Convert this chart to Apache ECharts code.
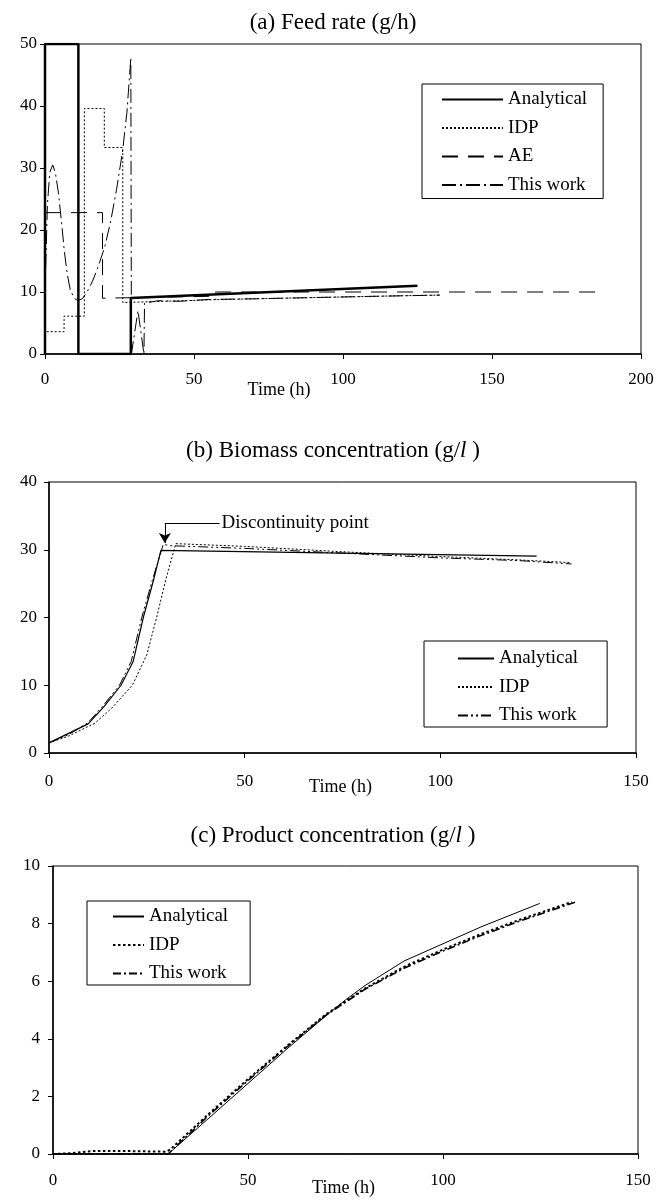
<!DOCTYPE html>
<html>
<head>
<meta charset="utf-8">
<script src="https://cdn.jsdelivr.net/npm/echarts@6/dist/echarts.min.js"></script>
<style>
html, body { margin: 0; padding: 0; background: #fff; }
#main { width: 666px; height: 1200px; }
</style>
</head>
<body>
<div id="main"></div>
<script>
// (a) feed rate (g/h) -- [time, value]
var feedAnalytical = [[0, 0], [0, 50], [11.2, 50], [11.2, 0], [28.8, 0], [28.8, 9.05], [125, 11.0]];
var feedIDP = [[0, 0], [0, 3.6], [6.4, 3.6], [6.4, 6.1], [13.2, 6.1], [13.2, 39.6], [19.9, 39.6], [19.9, 33.3],
    [26.1, 33.3], [26.1, 8.3], [40, 8.5], [60, 8.8], [80, 9.0], [100, 9.2], [120, 9.4], [132.6, 9.5]];
var feedAE = [[0, 22.8], [19.3, 22.8], [19.3, 9.0], [55, 9.3], [55, 10], [187, 10]];
var feedThisWork = [[0, 10], [0.8, 24], [1.6, 29.3], [2.6, 30.5], [3.5, 29.2], [4.5, 26], [5.5, 21.5], [6.5, 16.5],
    [7.5, 12.8], [8.5, 10.3], [9.8, 9.0], [11, 8.6], [12.5, 8.9], [14, 9.9], [16, 11.8], [18, 14.3], [20, 17.2],
    [22, 21.3], [24, 26.5], [26, 32.6], [27.5, 39], [28.8, 47.8], [29, 0], [31.2, 7], [33.2, 0], [33.4, 8.2],
    [38, 8.6], [45, 8.5], [55, 8.8], [70, 8.9], [90, 9.1], [110, 9.3], [132.5, 9.5]];

// (b) biomass concentration (g/l)
var bioAnalytical = [[0, 1.5], [10, 4.3], [14, 6.8], [18.4, 10], [21.5, 13.5], [24.1, 20], [26.7, 25.5],
    [28.6, 29.9], [124.6, 29.05]];
var bioIDP = [[0, 1.5], [5, 2.5], [11.7, 4.4], [16, 6.6], [21.3, 10], [25, 14.5], [27.5, 20], [29.8, 25.5],
    [32.4, 30.9], [50, 30.5], [75, 29.7], [100, 29.0], [120, 28.5], [133.5, 28.1]];
var bioThisWork = [[0, 1.5], [5, 2.7], [10, 4.5], [14, 7.1], [18, 10], [21, 13.5], [23.7, 20], [26.4, 25.5],
    [29.2, 30.8], [31, 30.6], [50, 30.2], [75, 29.5], [100, 28.8], [120, 28.4], [133.5, 27.9]];

// (c) product concentration (g/l)
var prodAnalytical = [[0, 0], [29.5, 0], [40, 1.25], [50, 2.45], [60, 3.65], [70, 4.8], [75, 5.35], [80, 5.85],
    [90, 6.7], [100, 7.3], [110, 7.9], [124.8, 8.7]];
var prodIDP = [[0, 0], [5, 0.03], [10, 0.1], [20, 0.1], [29, 0.08], [30, 0.15], [40, 1.4], [50, 2.6], [60, 3.75],
    [70, 4.85], [80, 5.75], [90, 6.5], [100, 7.1], [110, 7.65], [120, 8.15], [133, 8.75]];
var prodThisWork = [[0, 0], [29.5, 0], [30, 0.05], [40, 1.35], [50, 2.55], [60, 3.72], [70, 4.82], [80, 5.72],
    [90, 6.45], [100, 7.05], [110, 7.6], [120, 8.1], [134, 8.75]];

var legendA = ['Analytical|a', 'IDP|a', 'AE|a', 'This work|a'];
var legendB = ['Analytical|b', 'IDP|b', 'This work|b'];
var legendC = ['Analytical|c', 'IDP|c', 'This work|c'];

var FONT = 'Liberation Serif';
var chart = echarts.init(document.getElementById('main'));

function xAxisOf(grid, max, gap, margin, namePad) {
    return {
        type: 'value', gridIndex: grid, min: 0, max: max, interval: 50,
        name: 'Time (h)', nameLocation: 'middle', nameGap: gap, nameMoveOverlap: false,
        nameTextStyle: { fontFamily: FONT, fontSize: 18, color: '#000', padding: namePad },
        axisLine: { lineStyle: { color: '#000', width: 1.5 } },
        axisTick: { show: true, length: 5, lineStyle: { color: '#000' } },
        axisLabel: { fontFamily: FONT, fontSize: 17, color: '#000', margin: margin },
        splitLine: { show: false }
    };
}
function yAxisOf(grid, max, interval, margin) {
    return {
        type: 'value', gridIndex: grid, min: 0, max: max, interval: interval,
        axisLine: { show: true, lineStyle: { color: '#000', width: 1.5 } },
        axisTick: { show: true, length: 5, lineStyle: { color: '#000' } },
        axisLabel: { fontFamily: FONT, fontSize: 17, color: '#000', margin: margin },
        splitLine: { show: false }
    };
}
function line(name, data, idx, width, type) {
    return {
        name: name, type: 'line', data: data, xAxisIndex: idx, yAxisIndex: idx,
        symbol: 'none', silent: true, animation: false,
        lineStyle: { color: '#000', width: width, type: type }
    };
}
function legendOf(names, left, top, pad, gap, itemWidth) {
    return {
        data: names, orient: 'vertical', left: left, top: top, padding: pad, itemGap: gap,
        itemWidth: itemWidth, itemHeight: 14, selectedMode: false,
        borderColor: '#000', borderWidth: 1, backgroundColor: '#fff',
        itemStyle: { color: 'rgba(0,0,0,0)', borderWidth: 0, opacity: 0 },
        textStyle: { fontFamily: FONT, fontSize: 19, color: '#000' },
        formatter: function (n) { return n.split('|')[0]; }
    };
}

var bioArrowSeries = line('Analytical|b', bioAnalytical, 1, 1.2, 'solid');
bioArrowSeries.markLine = {
    silent: true, animation: false,
    lineStyle: { color: '#000', width: 1, type: 'solid' },
    data: [
        [{ coord: [29.6, 33.9], symbol: 'none' }, { coord: [29.6, 31.0], symbol: 'arrow', symbolSize: [9, 10] }],
        [{ coord: [29.6, 33.9], symbol: 'none' },
         { coord: [43.6, 33.9], symbol: 'none',
           label: { show: true, position: 'end', distance: 2, formatter: 'Discontinuity point',
                    fontFamily: FONT, fontSize: 19, color: '#000' } }]
    ],
    label: { show: false }
};

var titleStyle = {
    fontFamily: FONT, fontSize: 23, fontWeight: 'normal', color: '#000',
    rich: { i: { fontFamily: FONT, fontSize: 23, fontStyle: 'italic', color: '#000' } }
};

var option = {
    backgroundColor: '#fff',
    animation: false,
    title: [
        { text: '(a) Feed rate (g/h)', left: 'center', top: 6, textStyle: titleStyle },
        { text: '(b) Biomass concentration (g/{i|l} )', left: 'center', top: 434, textStyle: titleStyle },
        { text: '(c) Product concentration (g/{i|l} )', left: 'center', top: 819, textStyle: titleStyle }
    ],
    grid: [
        { left: 45, right: 25, top: 44, height: 310, show: true, borderColor: '#000', borderWidth: 1, outerBoundsMode: 'none' },
        { left: 49, right: 30, top: 482, height: 271, show: true, borderColor: '#000', borderWidth: 1, outerBoundsMode: 'none' },
        { left: 53, right: 28, top: 866, height: 288, show: true, borderColor: '#000', borderWidth: 1, outerBoundsMode: 'none' }
    ],
    xAxis: [
        xAxisOf(0, 200, 27, 17, [0, 128, 0, 0]),
        xAxisOf(1, 150, 25, 20, [0, 4, 0, 0]),
        xAxisOf(2, 150, 25, 18, [0, 4, 0, 0])
    ],
    yAxis: [
        yAxisOf(0, 50, 10, 8),
        yAxisOf(1, 40, 10, 12),
        yAxisOf(2, 10, 2, 13)
    ],
    legend: [
        legendOf(legendA, 422, 84, [6, 16, 4, 19], 9.5, 61),
        legendOf(legendB, 424, 641, [8, 29, 2, 33], 9.5, 36),
        legendOf(legendC, 87, 901, [6, 22, 2, 25], 9.5, 31)
    ],
    series: [
        line('AE|a', feedAE, 0, 1, [16, 10]),
        line('IDP|a', feedIDP, 0, 1, [2, 2]),
        line('This work|a', feedThisWork, 0, 1, [14, 4, 2, 4]),
        line('Analytical|a', feedAnalytical, 0, 2.5, 'solid'),

        bioArrowSeries,
        line('IDP|b', bioIDP, 1, 1, [2, 2]),
        line('This work|b', bioThisWork, 1, 1, [10, 3, 2, 3, 2, 3]),

        line('Analytical|c', prodAnalytical, 2, 1, 'solid'),
        line('IDP|c', prodIDP, 2, 2, [2.5, 2.5]),
        line('This work|c', prodThisWork, 2, 1.6, [8, 3, 2, 3])
    ]
};
chart.setOption(option);
</script>
</body>
</html>
